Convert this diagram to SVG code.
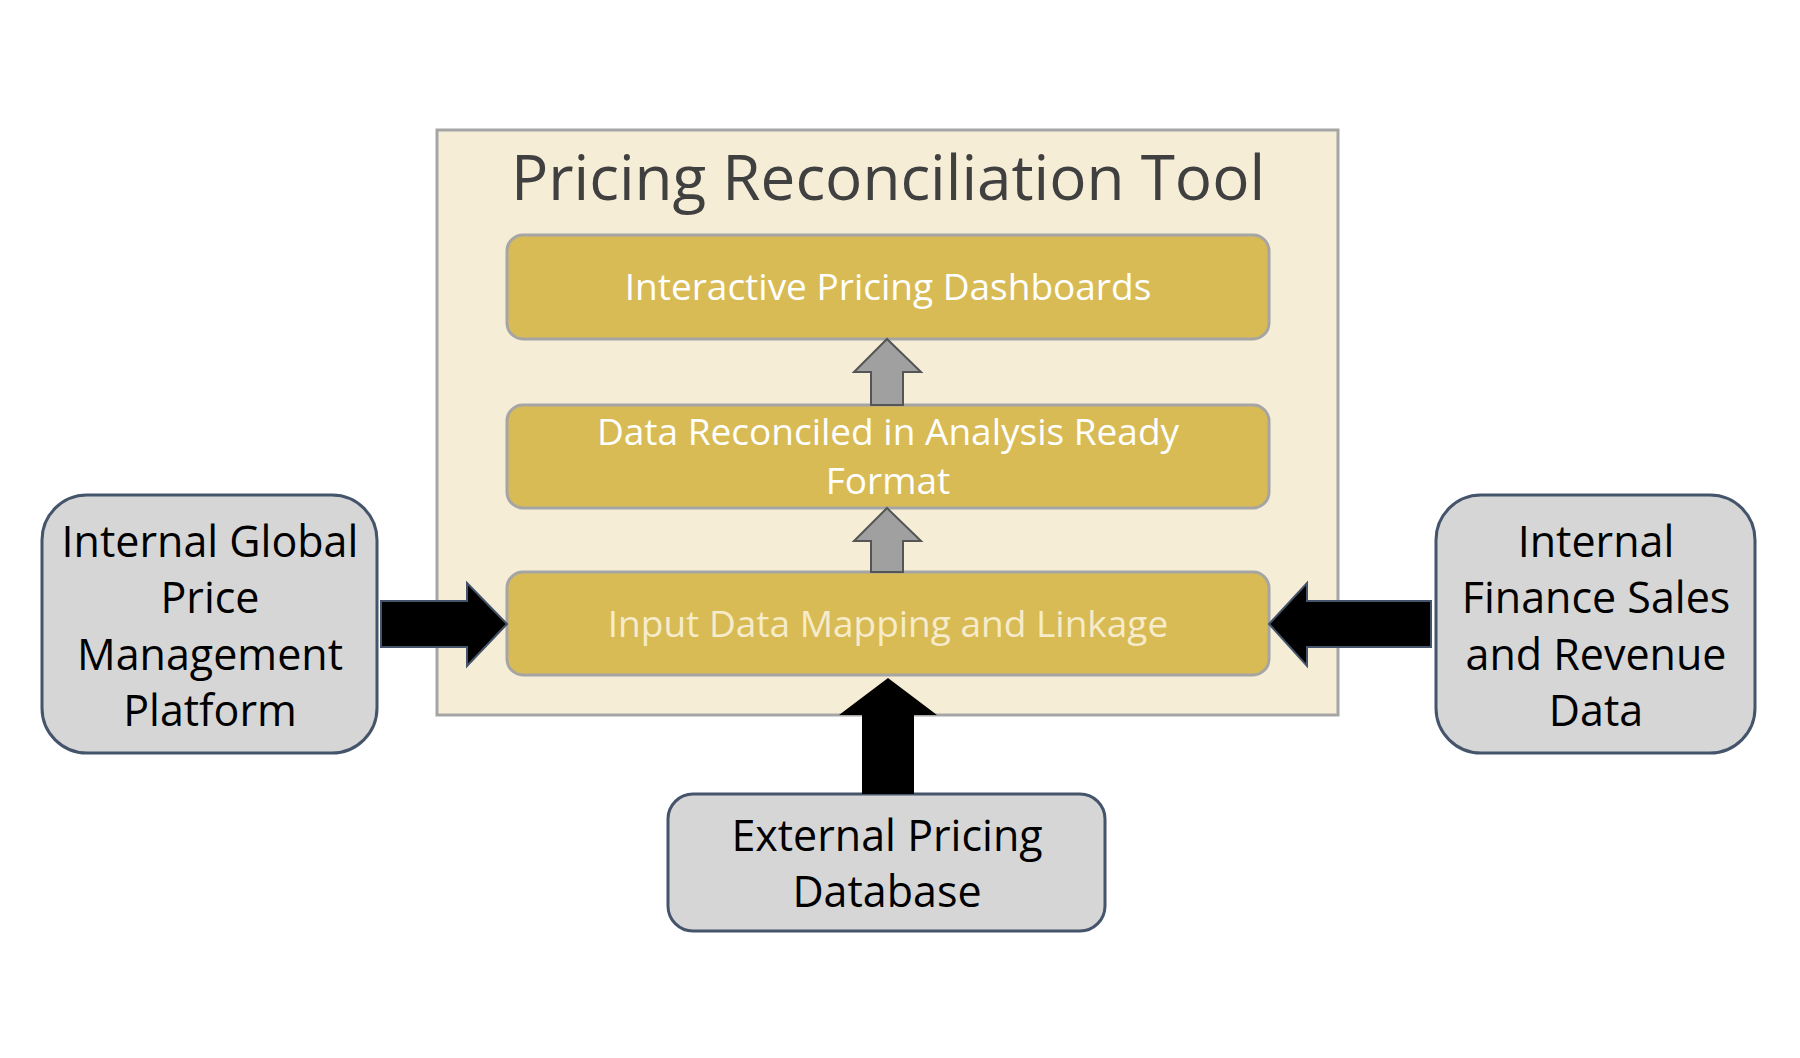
<svg xmlns="http://www.w3.org/2000/svg" width="1800" height="1058" viewBox="0 0 1800 1058">
<style>
text{font-family:"Open Sans","Liberation Sans",sans-serif;text-anchor:middle}
.gold{fill:#d8bb55;stroke:#a5a5a5;stroke-width:3}
.ext{fill:#d6d6d6;stroke:#44546a;stroke-width:3}
.gt{fill:#fff;font-size:37px}
.et{fill:#000;font-size:43px}
</style>
<rect width="1800" height="1058" fill="#fff"/>
<g id="frame"><rect x="437" y="130" width="901" height="585" fill="#f5edd6" stroke="#a5a5a5" stroke-width="3"/>
<text x="888" y="200" font-size="62" fill="#404040">Pricing Reconciliation Tool</text></g>
<g id="dash"><rect class="gold" x="507" y="235" width="762" height="104" rx="16"/><text class="gt" x="888" y="300">Interactive Pricing Dashboards</text></g>
<g id="recon"><rect class="gold" x="507" y="405" width="762" height="103" rx="16"/><text class="gt" x="888" y="445">Data Reconciled in Analysis Ready</text><text class="gt" x="888" y="494">Format</text></g>
<g id="input"><rect class="gold" x="507" y="572" width="762" height="103" rx="16"/><text class="gt" x="888" y="637" fill="#f6eccb" style="fill:#f6eccb">Input Data Mapping and Linkage</text></g>
<g id="igpm"><rect class="ext" x="42" y="495" width="335" height="258" rx="45"/>
<text class="et" x="210" y="557">Internal Global</text><text class="et" x="210" y="613">Price</text><text class="et" x="210" y="670">Management</text><text class="et" x="210" y="726">Platform</text></g>
<g id="ifin"><rect class="ext" x="1436" y="495" width="319" height="258" rx="45"/>
<text class="et" x="1596" y="557">Internal</text><text class="et" x="1596" y="613">Finance Sales</text><text class="et" x="1596" y="670">and Revenue</text><text class="et" x="1596" y="726">Data</text></g>
<g id="extdb"><rect class="ext" x="668" y="794" width="437" height="137" rx="25"/>
<text class="et" x="887" y="851">External Pricing</text><text class="et" x="887" y="907">Database</text></g>
<g id="connectors">
<polygon points="871,405 871,372 854,372 887,339 921,372 903,372 903,405" fill="#a0a0a0" stroke="#555" stroke-width="2"/>
<polygon points="871,572 871,541 854,541 887,508 921,541 903,541 903,572" fill="#a0a0a0" stroke="#555" stroke-width="2"/>
<polygon points="381,601 467,601 467,583 507,624 467,666 467,647 381,647" fill="#000" stroke="#44546a" stroke-width="2"/>
<polygon points="1431,601 1307,601 1307,583 1269,624 1307,666 1307,647 1431,647" fill="#000" stroke="#44546a" stroke-width="2"/>
<polygon points="862,794 862,715 839,715 888,678 937,715 914,715 914,794" fill="#000"/>
</g>
</svg>
